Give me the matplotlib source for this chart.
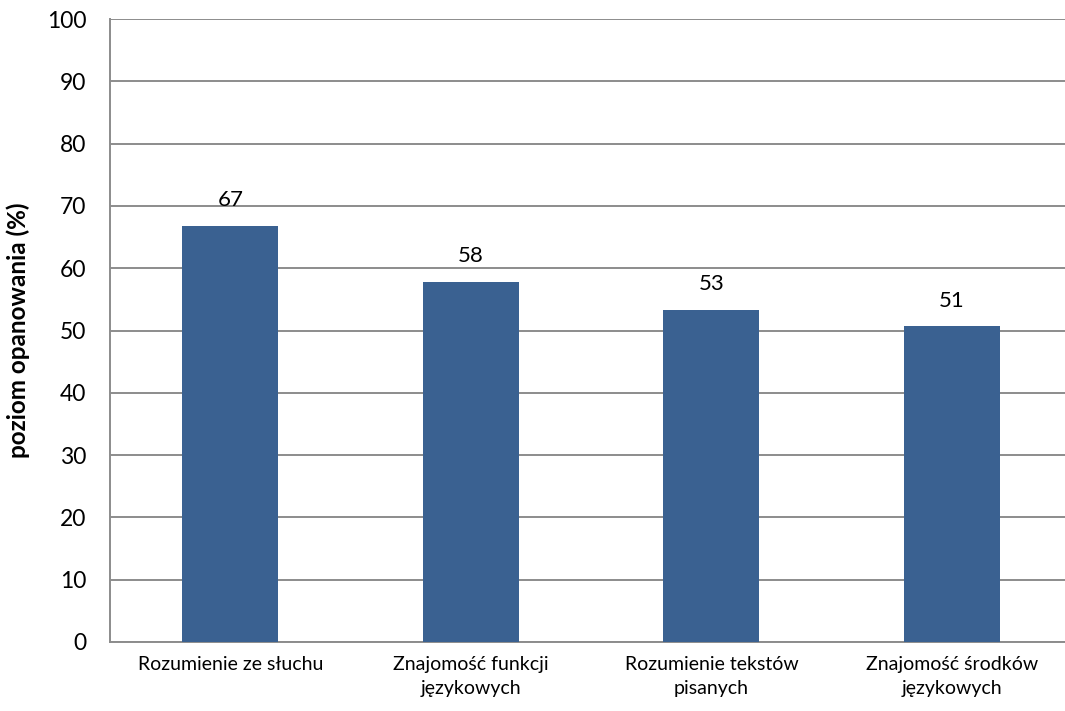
import matplotlib.pyplot as plt
import numpy as np

# dane z wykresu
categories = ["Rozumienie ze słuchu", "Znajomość funkcji\njęzykowych",
              "Rozumienie tekstów\npisanych", "Znajomość środków\njęzykowych"]
values = [66.8, 57.8, 53.3, 50.7]
labels = ["67", "58", "53", "51"]

plt.rcParams['font.family'] = ['Lato', 'DejaVu Sans']

fig = plt.figure(figsize=(10.65, 7.11), dpi=100)
ax = fig.add_axes([110 / 1065, 1 - 642 / 711, 955 / 1065, 623 / 711])

x = np.arange(len(categories))
ax.bar(x, values, width=0.4, color='#3A6191', zorder=3)

for xi, v, lab in zip(x, values, labels):
    ax.text(xi, v + 2.5, lab, ha='center', va='bottom', fontsize=16, color='black')

ax.set_xlim(-0.5, 3.47)
ax.set_ylim(0, 100)
ax.set_yticks(np.arange(0, 101, 10))
ax.set_xticks(x)
ax.set_xticklabels(categories, fontsize=14, linespacing=1.5)
ax.tick_params(axis='y', labelsize=16.5, length=0, pad=17)
ax.tick_params(axis='x', length=0, pad=10)

ax.grid(axis='y', color='#8c8c8c', linewidth=1.4, zorder=0)
for side in ['top', 'right']:
    ax.spines[side].set_visible(False)
for side in ['left', 'bottom']:
    ax.spines[side].set_color('#8c8c8c')
    ax.spines[side].set_linewidth(1.4)

ax.set_ylabel('poziom opanowania (%)', fontsize=17.5, fontweight='bold', labelpad=12)

fig.savefig('out.png', dpi=100)
